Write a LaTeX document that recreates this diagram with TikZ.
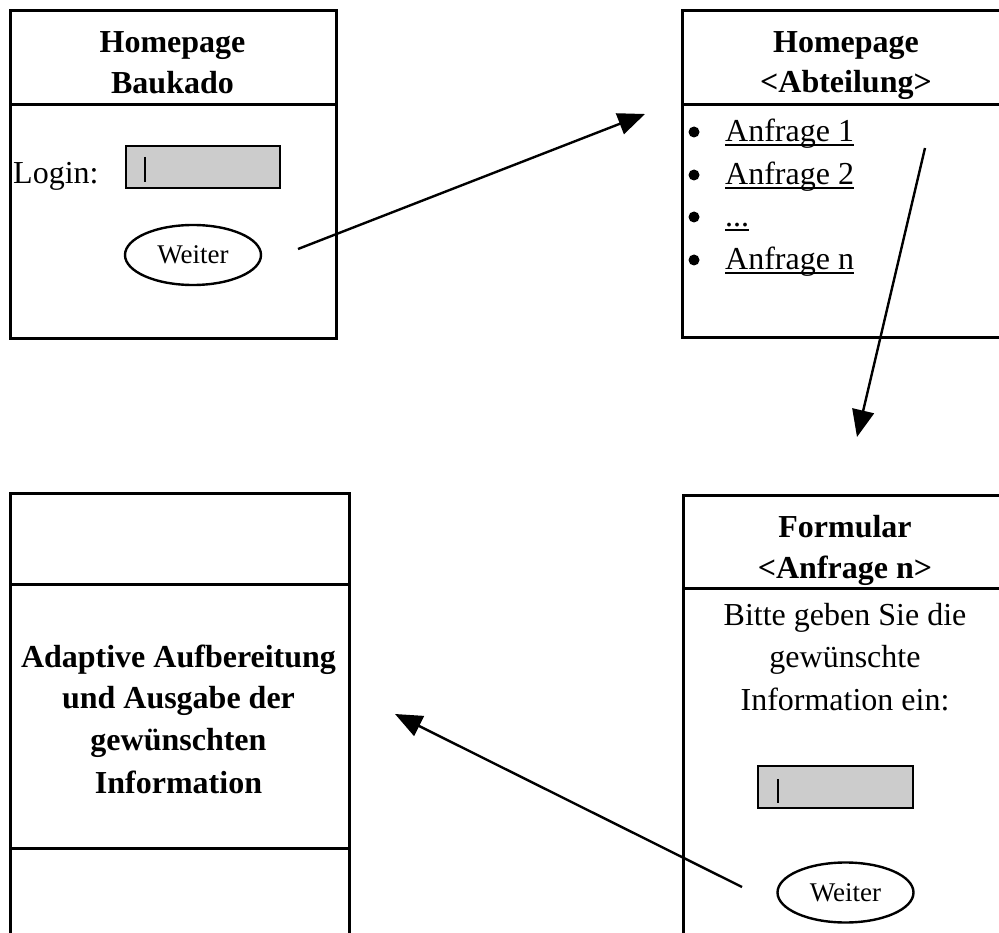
\documentclass[tikz,border=0pt]{standalone}
\usepackage{fontspec}
\setmainfont{Liberation Serif}
\usepackage{xcolor}
\usepackage{tikz}
\usetikzlibrary{shapes, arrows.meta, positioning, calc}
\definecolor{fieldgray}{RGB}{204,204,204}
\newcommand{\threedots}{...}

\begin{document}
\begin{tikzpicture}[x=1pt,y=-1pt,
  screen/.style={line width=3pt},
  title/.style={anchor=base,inner sep=0pt,font=\fontsize{32}{40}\selectfont\bfseries},
  body/.style={anchor=base,inner sep=0pt,font=\fontsize{32}{40}\selectfont},
  field/.style={draw,line width=2.4pt,fill=fieldgray},
  cursor/.style={line width=2.6pt},
  dot/.style={circle,fill,inner sep=0pt,minimum size=11pt},
  button/.style={draw,ellipse,line width=2.4pt,minimum width=136pt,minimum height=60pt,inner sep=0pt,font=\fontsize{27}{30}\selectfont},
  link/.style={line width=2.4pt,-{Triangle[length=27pt,width=22pt]}}]
  \useasboundingbox (0,0) rectangle (999,933);
  \clip (0,0) rectangle (999,933);

  % Screen 1: homepage with login
  \draw[screen] (10,11) rectangle (336,339);
  \draw[screen] (10,105) -- (336,105);
  \node[title] (t1a) at (172.5,53) {Homepage};
  \node[title] (t1b) at (172.5,94) {Baukado};
  \node[body,anchor=base west] (login) at (13,184) {Login:};
  \draw[field] (126,146) rectangle (280,188);
  \draw[cursor] (145,157) -- (145,182);
  \node[button] (weiter1) at (193,255) {Weiter};

  % Screen 2: department homepage
  \draw[screen] (682,11) rectangle (1010,338);
  \draw[screen] (682,105) -- (1010,105);
  \node[title] (t2a) at (846,53) {Homepage};
  \node[title] (t2b) at (846,93) {<Abteilung>};
  \foreach \lbl/\yy [count=\i] in {Anfrage 1/142, Anfrage 2/185, \threedots/227, Anfrage n/270} {
    \node[dot] (bullet\i) at (694,\yy-10) {};
    \node[body,anchor=base west] (item\i) at (725,\yy) {\lbl};
    \draw[line width=2pt] ($(item\i.base west)+(0,3.5)$) -- ($(item\i.base east)+(0,3.5)$);
  }

  % Screen 3: form
  \draw[screen] (683,495) rectangle (1010,950);
  \draw[screen] (683,588) -- (1010,588);
  \node[title] (t3a) at (845,537) {Formular};
  \node[title] (t3b) at (845,578) {<Anfrage n>};
  \node[body] (f1) at (845,625) {Bitte geben Sie die};
  \node[body] (f2) at (845,667) {gewünschte};
  \node[body] (f3) at (845,710) {Information ein:};
  \draw[field] (758,766) rectangle (913,808);
  \draw[cursor] (778,779) -- (778,803);
  \node[button] (weiter2) at (845.5,892.5) {Weiter};

  % Screen 4: output
  \draw[screen] (10,493) rectangle (349,950);
  \draw[screen] (10,584) -- (349,584);
  \draw[screen] (10,848) -- (349,848);
  \node[title] (o1) at (178.5,667) {Adaptive Aufbereitung};
  \node[title] (o2) at (178.5,708) {und Ausgabe der};
  \node[title] (o3) at (178.5,750) {gewünschten};
  \node[title] (o4) at (178.5,793) {Information};

  % Arrows
  \coordinate (s1) at (298,249);
  \coordinate (e1) at (645,114);
  \coordinate (s2) at (925,148);
  \coordinate (e2) at (857,437);
  \coordinate (s3) at (742,887);
  \coordinate (e3) at (395,714);
  \draw[link] (s1) -- (e1);
  \draw[link] (s2) -- (e2);
  \draw[link] (s3) -- (e3);
\end{tikzpicture}
\end{document}
